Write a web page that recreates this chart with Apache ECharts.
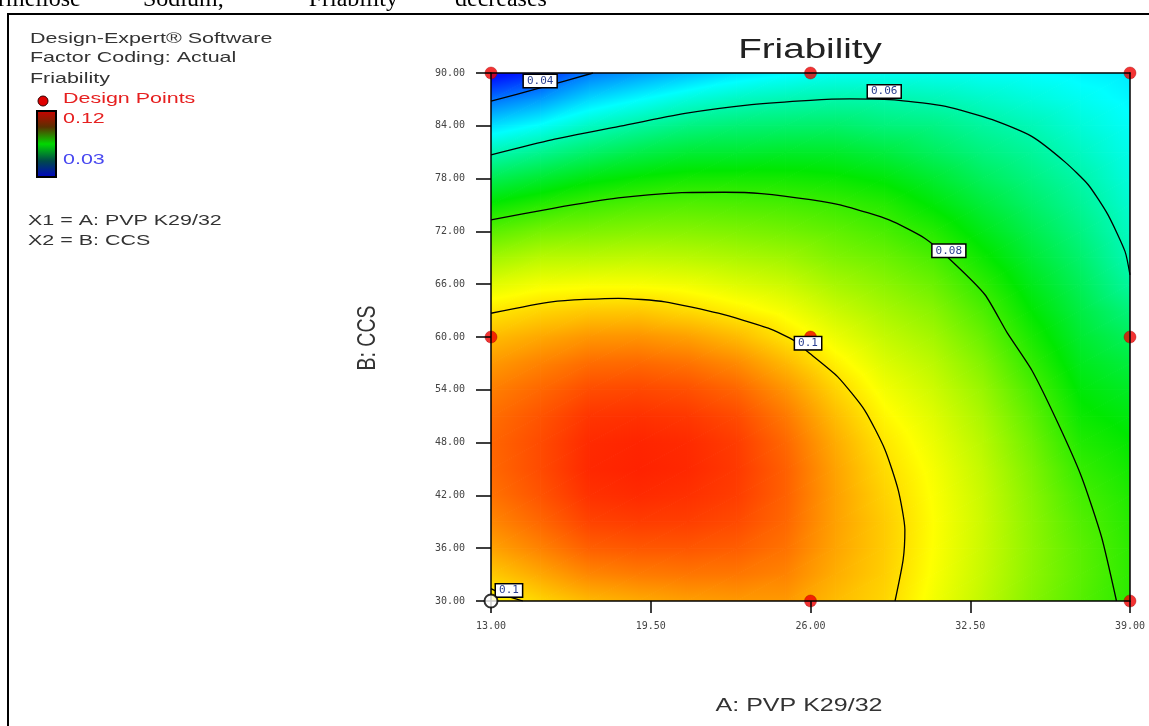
<!DOCTYPE html>
<html><head><meta charset="utf-8">
<script src="https://cdn.jsdelivr.net/npm/echarts@6/dist/echarts.min.js"></script>
<style>html,body{margin:0;padding:0;background:#fff}#c{width:1149px;height:726px}</style>
</head><body><div id="c"></div>
<script>
// ---- data ----
const A_VALUES = [13,15,17,19,21,23,25,27,29,31,33,35,37,39];
const B_VALUES = [30,33,36,39,42,45,48,51,54,57,60,63,66,69,72,75,78,81,84,87,90];
// Friability, one row per B value (ascending), one column per A value
const FRIABILITY = [
  [0.0980,0.1013,0.1038,0.1050,0.1060,0.1065,0.1065,0.1035,0.1012,0.0965,0.0920,0.0868,0.0825,0.0788],
  [0.1022,0.1052,0.1081,0.1091,0.1096,0.1095,0.1084,0.1047,0.1018,0.0971,0.0926,0.0874,0.0830,0.0790],
  [0.1056,0.1085,0.1116,0.1123,0.1124,0.1118,0.1099,0.1055,0.1021,0.0974,0.0929,0.0876,0.0829,0.0789],
  [0.1081,0.1109,0.1141,0.1147,0.1145,0.1135,0.1109,0.1059,0.1021,0.0975,0.0930,0.0874,0.0822,0.0784],
  [0.1099,0.1126,0.1157,0.1163,0.1158,0.1146,0.1114,0.1060,0.1015,0.0972,0.0927,0.0869,0.0811,0.0777],
  [0.1108,0.1134,0.1165,0.1170,0.1165,0.1150,0.1115,0.1057,0.1007,0.0967,0.0921,0.0861,0.0796,0.0766],
  [0.1110,0.1134,0.1163,0.1168,0.1163,0.1147,0.1108,0.1049,0.0997,0.0958,0.0912,0.0849,0.0778,0.0753],
  [0.1103,0.1126,0.1153,0.1157,0.1151,0.1134,0.1093,0.1034,0.0982,0.0947,0.0900,0.0834,0.0760,0.0737],
  [0.1088,0.1109,0.1133,0.1137,0.1130,0.1111,0.1070,0.1014,0.0965,0.0932,0.0885,0.0816,0.0743,0.0718],
  [0.1065,0.1085,0.1105,0.1108,0.1099,0.1078,0.1038,0.0988,0.0945,0.0915,0.0866,0.0794,0.0725,0.0696],
  [0.1034,0.1052,0.1068,0.1070,0.1059,0.1036,0.0999,0.0959,0.0923,0.0894,0.0843,0.0772,0.0707,0.0670],
  [0.0995,0.1011,0.1022,0.1023,0.1008,0.0988,0.0965,0.0929,0.0899,0.0871,0.0818,0.0749,0.0690,0.0642],
  [0.0948,0.0964,0.0969,0.0969,0.0962,0.0945,0.0929,0.0897,0.0873,0.0844,0.0791,0.0727,0.0672,0.0611],
  [0.0892,0.0913,0.0915,0.0919,0.0914,0.0903,0.0891,0.0864,0.0845,0.0815,0.0761,0.0704,0.0654,0.0591],
  [0.0829,0.0853,0.0861,0.0868,0.0868,0.0861,0.0851,0.0835,0.0814,0.0782,0.0731,0.0682,0.0636,0.0579],
  [0.0757,0.0784,0.0806,0.0819,0.0824,0.0819,0.0813,0.0801,0.0783,0.0745,0.0701,0.0659,0.0618,0.0567],
  [0.0678,0.0708,0.0738,0.0756,0.0768,0.0769,0.0767,0.0759,0.0742,0.0709,0.0670,0.0637,0.0601,0.0555],
  [0.0590,0.0623,0.0657,0.0685,0.0703,0.0707,0.0714,0.0712,0.0695,0.0668,0.0639,0.0614,0.0580,0.0543],
  [0.0494,0.0530,0.0578,0.0609,0.0635,0.0648,0.0655,0.0658,0.0643,0.0634,0.0610,0.0589,0.0559,0.0531],
  [0.0390,0.0429,0.0488,0.0523,0.0557,0.0580,0.0593,0.0601,0.0599,0.0590,0.0574,0.0557,0.0538,0.0518],
  [0.0278,0.0320,0.0397,0.0430,0.0464,0.0497,0.0518,0.0535,0.0536,0.0539,0.0532,0.0525,0.0515,0.0505]
];
// contour lines [A, B]
const CONTOUR_004 = [[13,86.8],[15,88.3],[17.15,90]];
const CONTOUR_006 = [[13,80.7],[15.47,82.4],[18.17,83.9],[20.9,85.4],[23.6,86.4],[26,86.9],[27.6,87.05],[29.6,86.9],[31.5,86.2],[33.4,84.7],[35,82.8],[36.35,79.9],[37.3,77.3],[38.1,73.9],[38.8,69.7],[39,67.05]];
const CONTOUR_008 = [[13,73.3],[15.47,74.6],[18.18,75.8],[20.76,76.4],[22.5,76.45],[24,76.3],[26,75.6],[27.5,74.8],[29.2,73.3],[30.66,71.2],[31.7,68.75],[33.1,64.8],[34.0,60.5],[35.0,56.25],[36.07,50.2],[37.03,44.1],[37.84,37.3],[38.45,30]];
const CONTOUR_010 = [[13,62.7],[15.47,64.0],[18.18,64.4],[20.08,64.0],[22.25,62.7],[24.28,61.0],[25.4,59.5],[25.9,58.3],[27.1,55.5],[28.2,51.7],[29.03,47.2],[29.57,42.6],[29.84,38.1],[29.77,34.7],[29.44,30]];
const CONTOUR_010_CORNER = [[13,31.4],[13.6,30.6],[14.3,30]];
const CONTOUR_LABELS = [['0.04',15.0,89.1],['0.06',29.0,87.9],['0.08',31.63,69.8],['0.1',25.9,59.3],['0.1',13.73,31.2]];
const DESIGN_POINTS = [[13,90],[26,90],[39,90],[13,60],[26,60],[39,60],[26,30],[39,30]];
const CENTER_POINT = [[13,30]];
const HEADER_WORDS = ['rmellose','Sodium,','\u201cFriability\u201d','decreases'];

// ---- colour scale (Design-Expert style) ----
const COLOR_STOPS = [[0.03,[0,20,255]],[0.0525,[0,255,255]],[0.075,[0,232,0]],[0.0975,[255,255,0]],[0.12,[255,0,0]]];
function colorOf(v){
  if (v <= COLOR_STOPS[0][0]) { const c=COLOR_STOPS[0][1]; return 'rgb('+c+')'; }
  for (let i=1;i<COLOR_STOPS.length;i++){
    if (v <= COLOR_STOPS[i][0]) {
      const [v0,c0]=COLOR_STOPS[i-1], [v1,c1]=COLOR_STOPS[i];
      const t=(v-v0)/(v1-v0);
      return 'rgb('+c0.map((c,k)=>Math.round(c+(c1[k]-c)*t)).join(',')+')';
    }
  }
  const c=COLOR_STOPS[COLOR_STOPS.length-1][1]; return 'rgb('+c+')';
}
function tri(p0,p1,p2,v0,v1,v2){
  const dx1=p1[0]-p0[0], dy1=p1[1]-p0[1], dx2=p2[0]-p0[0], dy2=p2[1]-p0[1];
  const det=dx1*dy2-dx2*dy1, d1=v1-v0, d2=v2-v0;
  const ga=(d1*dy2-d2*dy1)/det, gb=(dx1*d2-dx2*d1)/det;
  const vs=[v0,v1,v2], ps=[p0,p1,p2];
  let imin=0, imax=0;
  for (let i=1;i<3;i++){ if(vs[i]<vs[imin]) imin=i; if(vs[i]>vs[imax]) imax=i; }
  const vmin=vs[imin], vmax=vs[imax];
  let fill;
  if (vmax-vmin<1e-9 || !isFinite(det) || det===0) fill=colorOf(vmin);
  else {
    const k=(vmax-vmin)/(ga*ga+gb*gb);
    const sx=ps[imin][0], sy=ps[imin][1];
    const stops=[{offset:0,color:colorOf(vmin)}];
    COLOR_STOPS.forEach(s=>{ if(s[0]>vmin && s[0]<vmax) stops.push({offset:(s[0]-vmin)/(vmax-vmin),color:colorOf(s[0])}); });
    stops.push({offset:1,color:colorOf(vmax)});
    fill=new echarts.graphic.LinearGradient(sx,sy,sx+ga*k,sy+gb*k,stops,true);
  }
  return {type:'polygon',shape:{points:[p0,p1,p2]},style:{fill:fill,stroke:fill,lineWidth:1},silent:true};
}
// cells built from the grid
const cells=[];
for (let j=0;j<B_VALUES.length-1;j++) for (let i=0;i<A_VALUES.length-1;i++){
  cells.push([A_VALUES[i],B_VALUES[j],A_VALUES[i+1],B_VALUES[j+1],
    FRIABILITY[j][i],FRIABILITY[j][i+1],FRIABILITY[j+1][i],FRIABILITY[j+1][i+1]]);
}

const chart = echarts.init(document.getElementById('c'), null, {renderer:'canvas'});
const SX = 1.43;
const SANS = '"Liberation Sans", Arial, sans-serif';
function txt(x,y,text,size,color,align,extra){
  return Object.assign({type:'text',x:x,y:y,scaleX:SX,z:100,silent:true,
    style:{text:text,font:size+'px '+SANS,fill:color,textAlign:align||'left',align:align||'left',textVerticalAlign:'middle',verticalAlign:'middle'}},extra||{});
}
const HEADER_X = [-2,143,298,455];
const headerEls = HEADER_WORDS.map((w,i)=>({type:'text',x:HEADER_X[i],y:12,z:100,silent:true,
  style:{text:w,font:'24px "Liberation Serif", serif',fill:'#000',textVerticalAlign:'bottom',verticalAlign:'bottom'}}));
const lineSeries = (d)=>({type:'line',data:d,showSymbol:false,symbol:'none',smooth:0.2,silent:true,animation:false,z:3,
  lineStyle:{color:'#000',width:1.3},clip:true,xAxisIndex:0,yAxisIndex:0});

chart.setOption({
  animation:false,
  backgroundColor:'#fff',
  grid:{left:491,top:73,right:19,bottom:125,show:false},
  xAxis:[{type:'value',min:13,max:39,interval:6.5,
    axisLine:{show:true,onZero:false,lineStyle:{color:'#000',width:1.5}},
    axisTick:{show:true,length:12,lineStyle:{color:'#000',width:1.5}},
    axisLabel:{formatter:v=>v.toFixed(2),fontFamily:'"DejaVu Sans Mono", monospace',fontSize:10,color:'#444',margin:20},
    splitLine:{show:false},z:10},
    {type:'value',position:'top',min:13,max:39,axisLine:{show:true,onZero:false,lineStyle:{color:'#000',width:1.5}},
    axisTick:{show:false},axisLabel:{show:false},splitLine:{show:false},z:10}],
  yAxis:[{type:'value',min:30,max:90,interval:6,
    axisLine:{show:true,onZero:false,lineStyle:{color:'#000',width:1.5}},
    axisTick:{show:true,length:15,lineStyle:{color:'#000',width:1.5}},
    axisLabel:{formatter:v=>v.toFixed(2),fontFamily:'"DejaVu Sans Mono", monospace',fontSize:10,color:'#444',margin:26},
    splitLine:{show:false},z:10},
    {type:'value',position:'right',min:30,max:90,axisLine:{show:true,onZero:false,lineStyle:{color:'#000',width:1.5}},
    axisTick:{show:false},axisLabel:{show:false},splitLine:{show:false},z:10}],
  series:[
    {type:'custom',data:cells,clip:true,silent:true,z:1,encode:{x:[0,2],y:[1,3]},
      renderItem:function(params,api){
        const a0=api.value(0),b0=api.value(1),a1=api.value(2),b1=api.value(3);
        const v00=api.value(4),v10=api.value(5),v01=api.value(6),v11=api.value(7);
        const p00=api.coord([a0,b0]),p10=api.coord([a1,b0]),p01=api.coord([a0,b1]),p11=api.coord([a1,b1]);
        return {type:'group',children:[tri(p00,p10,p11,v00,v10,v11),tri(p00,p11,p01,v00,v11,v01)]};
      }},
    lineSeries(CONTOUR_004),lineSeries(CONTOUR_006),lineSeries(CONTOUR_008),lineSeries(CONTOUR_010),lineSeries(CONTOUR_010_CORNER),
    {type:'scatter',data:CONTOUR_LABELS.map(l=>({value:[l[1],l[2]],name:l[0]})),symbol:'rect',symbolSize:1,clip:false,z:8,silent:true,
      itemStyle:{color:'#ffffff',opacity:1},
      label:{show:true,position:'inside',formatter:'{b}',fontFamily:'"DejaVu Sans Mono", monospace',fontSize:11,color:'#2a3f90',
        backgroundColor:'#ffffff',opacity:1,borderColor:'#000',borderWidth:1.5,padding:[1,3,0,3]}},
    {type:'scatter',data:DESIGN_POINTS,symbol:'circle',symbolSize:12,clip:false,z:6,silent:true,
      itemStyle:{color:'#f00000',borderColor:'#a00000',borderWidth:0.5}},
    {type:'scatter',data:CENTER_POINT,symbol:'circle',symbolSize:13,clip:false,z:12,silent:true,
      itemStyle:{color:'#fff',borderColor:'#000',borderWidth:2}}
  ],
  graphic:[
    {type:'rect',shape:{x:8,y:14,width:1300,height:900},style:{fill:'none',stroke:'#000',lineWidth:2},silent:true,z:0}
  ].concat(headerEls).concat([
    txt(30,39,'Design-Expert\u00ae Software',15,'#333'),
    txt(30,58,'Factor Coding: Actual',15,'#333'),
    txt(30,79,'Friability',15,'#333'),
    {type:'circle',shape:{cx:43,cy:101,r:5},style:{fill:'#e00000',stroke:'#300',lineWidth:1},z:100,silent:true},
    txt(63,99,'Design Points',15,'#e62020'),
    {type:'rect',shape:{x:37,y:111,width:19,height:66},z:100,silent:true,
      style:{stroke:'#000',lineWidth:2,fill:new echarts.graphic.LinearGradient(0,0,0,1,[
        {offset:0,color:'#d00000'},{offset:0.25,color:'#5a3000'},{offset:0.5,color:'#00d800'},{offset:0.75,color:'#004a4a'},{offset:1,color:'#0000c8'}])}},
    txt(63,119,'0.12',15,'#e62020'),
    txt(63,160,'0.03',15,'#4848f0'),
    txt(28,221,'X1 = A: PVP K29/32',15,'#333'),
    txt(28,241,'X2 = B: CCS',15,'#333'),
    txt(810,51,'Friability',27,'#222','center'),
    txt(799,706,'A: PVP K29/32',17.5,'#333','center'),
    {type:'text',x:368,y:338,rotation:Math.PI/2,scaleY:1.3,z:100,silent:true,
      style:{text:'B: CCS',font:'19.5px '+SANS,fill:'#333',textAlign:'center',align:'center',textVerticalAlign:'middle',verticalAlign:'middle'}}
  ])
});
</script></body></html>
